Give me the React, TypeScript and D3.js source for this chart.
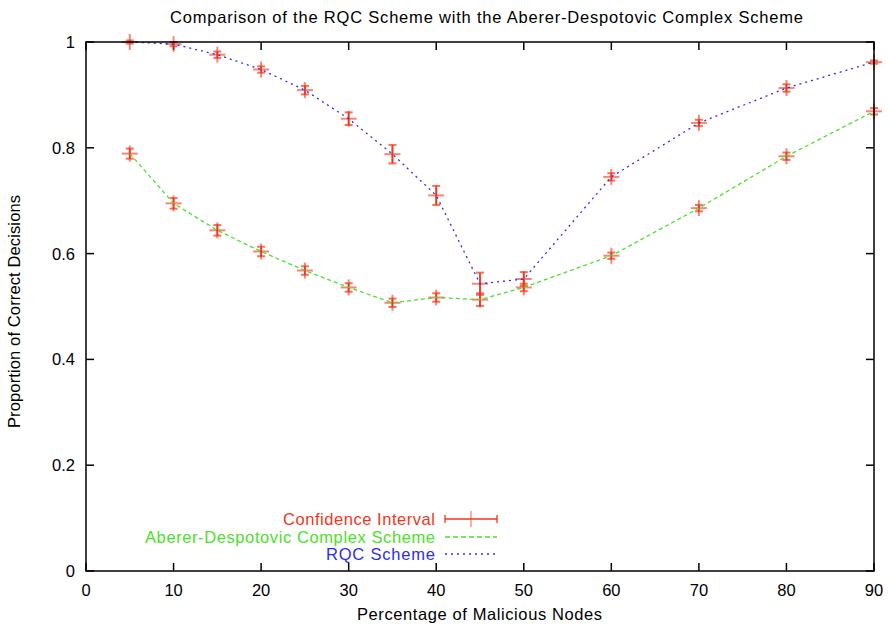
import React from "react";
import * as d3 from "d3";

const xVals = [5, 10, 15, 20, 25, 30, 35, 40, 45, 50, 60, 70, 80, 90];
const rqcVals = [1.0, 0.996, 0.976, 0.948, 0.909, 0.855, 0.788, 0.71, 0.543, 0.552, 0.745, 0.847, 0.913, 0.962];
const rqcErr = [0.003, 0.004, 0.006, 0.006, 0.008, 0.012, 0.0175, 0.018, 0.021, 0.013, 0.007, 0.006, 0.007, 0.003];
const adVals = [0.789, 0.695, 0.644, 0.604, 0.568, 0.536, 0.507, 0.517, 0.513, 0.536, 0.596, 0.686, 0.784, 0.869];
const adErr = [0.0095, 0.01, 0.01, 0.009, 0.008, 0.008, 0.008, 0.008, 0.012, 0.007, 0.006, 0.006, 0.007, 0.006];
const xTicks = [0, 10, 20, 30, 40, 50, 60, 70, 80, 90];
const yTicks = [0, 0.2, 0.4, 0.6, 0.8, 1];

const W = 889, H = 625;
const L = 86, R = 874, T = 42, B = 571;
const RED = "#f2361a", GREEN = "#4ce02c", BLUE = "#2d2df0";
const FONT = "'Liberation Sans', Arial, Helvetica, sans-serif";

export default function App() {
  const x = d3.scaleLinear().domain([0, 90]).range([L, R]);
  const y = d3.scaleLinear().domain([0, 1]).range([B, T]);
  const line = d3.line<number>().x((_, i) => x(xVals[i])).y((v) => y(v));

  const errBars = (vals: number[], errs: number[], key: string) =>
    vals.map((v, i) => {
      const cx = x(xVals[i]);
      const cy = y(v);
      const y1 = y(v + errs[i]);
      const y2 = y(v - errs[i]);
      return (
        <g key={key + i}>
          <line x1={cx - 8} x2={cx + 8} y1={cy} y2={cy} stroke={RED} strokeOpacity={0.6} strokeWidth={2} />
          <line x1={cx} x2={cx} y1={cy - 8} y2={cy + 8} stroke={RED} strokeOpacity={0.6} strokeWidth={2} />
          <line x1={cx} x2={cx} y1={y1} y2={y2} stroke={RED} strokeWidth={1.7} />
          <line x1={cx - 4} x2={cx + 4} y1={y1} y2={y1} stroke={RED} strokeOpacity={0.7} strokeWidth={2} />
          <line x1={cx - 4} x2={cx + 4} y1={y2} y2={y2} stroke={RED} strokeOpacity={0.7} strokeWidth={2} />
        </g>
      );
    });

  const legendX = 435;
  const sx1 = 445, sx2 = 497;
  const ly = [519, 537, 554];

  return (
    <svg width={W} height={H} style={{ position: "absolute", left: 0, top: 0, background: "#fff" }} fontFamily={FONT}>
      <rect x={0} y={0} width={W} height={H} fill="#fff" />
      <text x={170} y={23} fontSize={16.5} fill="#000" textLength={633} lengthAdjust="spacing">
        Comparison of the RQC Scheme with the Aberer-Despotovic Complex Scheme
      </text>
      {xTicks.map((t) => (
        <g key={"xt" + t}>
          <line x1={x(t)} x2={x(t)} y1={B} y2={B - 8} stroke="#000" strokeWidth={1.5} />
          <line x1={x(t)} x2={x(t)} y1={T} y2={T + 8} stroke="#000" strokeWidth={1.5} />
          <text x={x(t)} y={596} textAnchor="middle" fontSize={16.5} fill="#000">{t}</text>
        </g>
      ))}
      {yTicks.map((t) => (
        <g key={"yt" + t}>
          <line x1={L} x2={L + 8} y1={y(t)} y2={y(t)} stroke="#000" strokeWidth={1.5} />
          <line x1={R} x2={R - 8} y1={y(t)} y2={y(t)} stroke="#000" strokeWidth={1.5} />
          <text x={75} y={y(t) + 6} textAnchor="end" fontSize={16.5} fill="#000">{String(t)}</text>
        </g>
      ))}
      <text x={357} y={620} fontSize={16.5} fill="#000" textLength={245} lengthAdjust="spacing">Percentage of Malicious Nodes</text>
      <text transform={`translate(20,428) rotate(-90)`} fontSize={16.5} fill="#000" textLength={233} lengthAdjust="spacing">
        Proportion of Correct Decisions
      </text>
      {errBars(rqcVals, rqcErr, "r")}
      {errBars(adVals, adErr, "a")}
      <path d={line(adVals) || ""} fill="none" stroke={GREEN} strokeWidth={1.3} strokeDasharray="4,3" />
      <path d={line(rqcVals) || ""} fill="none" stroke={BLUE} strokeWidth={1.3} strokeDasharray="2,4" />
      <text x={283} y={ly[0] + 6} fontSize={16.5} fill={RED} textLength={152} lengthAdjust="spacing">Confidence Interval</text>
      <line x1={sx1} x2={sx2} y1={ly[0]} y2={ly[0]} stroke={RED} strokeWidth={1.3} />
      <line x1={sx1} x2={sx1} y1={ly[0] - 4} y2={ly[0] + 4} stroke={RED} strokeWidth={1.3} />
      <line x1={sx2} x2={sx2} y1={ly[0] - 4} y2={ly[0] + 4} stroke={RED} strokeWidth={1.3} />
      <line x1={(sx1 + sx2) / 2} x2={(sx1 + sx2) / 2} y1={ly[0] - 8} y2={ly[0] + 8} stroke={RED} strokeOpacity={0.6} strokeWidth={1.3} />
      <text x={145} y={ly[1] + 6} fontSize={16.5} fill={GREEN} textLength={290} lengthAdjust="spacing">Aberer-Despotovic Complex Scheme</text>
      <line x1={sx1} x2={sx2} y1={ly[1]} y2={ly[1]} stroke={GREEN} strokeWidth={1.3} strokeDasharray="5,3" />
      <text x={326} y={ly[2] + 6} fontSize={16.5} fill={BLUE} textLength={109} lengthAdjust="spacing">RQC Scheme</text>
      <line x1={sx1} x2={sx2} y1={ly[2]} y2={ly[2]} stroke={BLUE} strokeWidth={1.3} strokeDasharray="2,4" />
      <rect x={L} y={T} width={R - L} height={B - T} fill="none" stroke="#000" strokeWidth={1.5} />
    </svg>
  );
}
